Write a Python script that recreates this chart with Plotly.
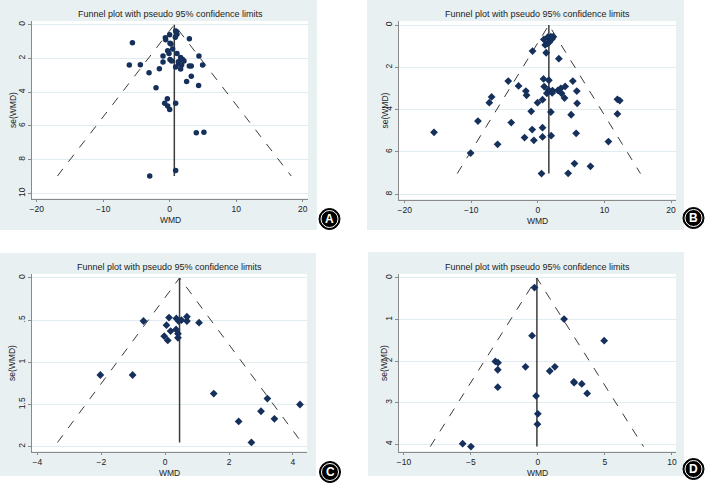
import plotly.graph_objects as go

W, H = 709, 484

# ---- panel A ----
a_wmd = [2.96, -5.6, -6.07, -4.41, -3.1, -2.05, -1.55, -1.0, -1.0, -0.65, -0.6, 0.0, -0.3, -0.1,
         0.05, 0.3, 0.05, 0.2, 0.45, 0.85, 1.0, 1.1, 0.9, 1.1, 0.9, 1.3, 1.35, 1.65, 1.8, 1.95,
         2.15, 1.65, 2.55, 2.95, 3.25, 3.25, 4.4, 4.95, 4.35, -0.35, -0.75, -0.3, 0.0, 0.9,
         4.0, 5.15, 0.9, -3.0]
a_se = [0.83, 1.07, 2.39, 2.37, 2.85, 3.74, 2.61, 1.86, 2.21, 0.77, 0.89, 0.6, 1.54, 1.7,
        2.06, 2.15, 1.1, 1.15, 1.44, 0.75, 0.4, 0.57, 0.37, 1.7, 2.5, 2.19, 2.33, 1.94, 2.39, 2.06,
        2.15, 2.63, 3.36, 2.45, 2.45, 3.06, 1.86, 2.39, 3.6, 4.39, 4.66, 4.82, 5.02, 4.66,
        6.4, 6.38, 8.64, 8.97]
a_pooled = 0.7

# ---- panel B ----
b_wmd = [0.9, 1.5, 1.95, 2.3, 2.15, 1.1, 1.45, 1.7, 1.25, -0.8, 3.15, 0.85, 1.65, -4.45, -2.9,
         0.95, -1.8, -1.7, -6.95, -7.3, 1.35, 1.6, 2.2, 2.15, 3.0, 3.45, 4.1, 3.55, 4.0, 5.25,
         5.85, 5.9, 0.7, -0.05, -1.0, 1.95, 5.0, 11.95, 12.3, 11.95, -9.0, -4.0, -15.6, -0.85,
         0.7, 5.75, -2.0, -0.6, 0.7, 2.0, -6.05, 10.6, -10.1, 5.5, 7.9, 0.55, 4.55]
b_se = [0.68, 0.57, 0.55, 0.55, 0.65, 0.94, 0.87, 0.82, 1.31, 1.23, 1.59, 2.55, 2.61, 2.65, 2.88,
        2.91, 3.12, 3.32, 3.4, 3.67, 3.23, 3.07, 3.1, 3.21, 3.09, 2.99, 2.9, 3.23, 3.45, 2.65,
        3.12, 3.7, 3.53, 3.67, 4.08, 4.11, 4.24, 3.51, 3.57, 4.2, 4.54, 4.61, 5.07, 4.94,
        4.85, 5.12, 5.32, 5.45, 5.29, 5.23, 5.64, 5.51, 6.05, 6.55, 6.68, 7.02, 7.01]
b_pooled = 1.65

# ---- panel C ----
c_wmd = [-0.68, 0.12, 0.35, 0.42, 0.51, 0.68, 0.68, 1.06, 0.04, 0.34, 0.17, 0.40, 0.40, -0.03,
         0.08, -2.03, -1.02, 1.52, 3.20, 4.22, 3.0, 3.42, 2.30, 2.70]
c_se = [0.51, 0.47, 0.48, 0.51, 0.50, 0.46, 0.51, 0.53, 0.56, 0.61, 0.63, 0.66, 0.71, 0.69,
        0.74, 1.15, 1.15, 1.37, 1.43, 1.50, 1.58, 1.67, 1.70, 1.95]
c_pooled = 0.45

# ---- panel D ----
d_wmd = [-0.26, 1.95, -0.44, 4.94, -3.18, -2.98, -3.0, -0.93, 0.88, 1.26, 2.68, 2.7, 3.27, 3.67,
         -3.0, -0.14, -0.01, -0.04, -5.62, -5.0]
d_se = [0.23, 0.99, 1.39, 1.51, 2.01, 2.04, 2.21, 2.14, 2.24, 2.14, 2.50, 2.52, 2.55, 2.78,
        2.63, 2.84, 3.27, 3.52, 3.99, 4.06]
d_pooled = -0.08

title_text = "Funnel plot with pseudo 95% confidence limits"
x_title = "WMD"
y_title = "se(WMD)"
letters = ["A", "B", "C", "D"]

ab_xticks = [-20, -10, 0, 10, 20]
a_yticks = [0, 2, 4, 6, 8, 10]
b_yticks = [0, 2, 4, 6, 8]
c_xticks = [-4, -2, 0, 2, 4]
c_yticks = [0, 0.5, 1, 1.5, 2]
c_yticklabels = ["0", ".5", "1", "1.5", "2"]
d_xticks = [-10, -5, 0, 5, 10]
d_yticks = [0, 1, 2, 3, 4]

# pixel layout of each panel: plot box (left, right, top, bottom), axis ranges,
# background box, letter centre, y-title x position
panels = [
    dict(wmd=a_wmd, se=a_se, pooled=a_pooled, sym="circle",
         box=(32, 308, 21, 199), xr=[-20.7, 20.8], yr=[10.33, -0.22],
         xt=ab_xticks, yt=a_yticks, yl=None, ytx=13,
         bg=(0, 317, 0, 230), letter=(329.5, 219)),
    dict(wmd=b_wmd, se=b_se, pooled=b_pooled, sym="diamond",
         box=(399, 676, 21, 200), xr=[-20.86, 20.75], yr=[8.27, -0.19],
         xt=ab_xticks, yt=b_yticks, yl=None, ytx=384,
         bg=(367, 684, 0, 230), letter=(693.5, 218)),
    dict(wmd=c_wmd, se=c_se, pooled=c_pooled, sym="diamond",
         box=(32, 307, 274, 452), xr=[-4.17, 4.44], yr=[2.063, -0.047],
         xt=c_xticks, yt=c_yticks, yl=c_yticklabels, ytx=12,
         bg=(0, 316, 253, 476), letter=(330, 472)),
    dict(wmd=d_wmd, se=d_se, pooled=d_pooled, sym="diamond",
         box=(399, 676, 274, 452), xr=[-10.37, 10.3], yr=[4.19, -0.096],
         xt=d_xticks, yt=d_yticks, yl=None, ytx=384,
         bg=(368, 684, 252, 476), letter=(693.5, 469)),
]

font = "Liberation Sans, Arial, sans-serif"
navy = "#16305c"
axcol = "#8a8a8a"
txtcol = "#222"


def px(x):
    return x / W


def py(y):
    return 1 - y / H


fig = go.Figure()
shapes = []
annotations = []
layout = {}

for i, p in enumerate(panels):
    n = "" if i == 0 else str(i + 1)
    xref, yref = "x" + n, "y" + n
    l, r, t, b = p["box"]
    se_max = max(p["se"])

    # pseudo 95% limits and pooled estimate
    fig.add_trace(go.Scatter(x=[p["pooled"] - 1.96 * se_max, p["pooled"], p["pooled"] + 1.96 * se_max],
                             y=[se_max, 0, se_max], mode="lines",
                             line=dict(color="#3a3a3a", width=1, dash="dash"),
                             xaxis=xref, yaxis=yref, hoverinfo="skip"))
    fig.add_trace(go.Scatter(x=[p["pooled"], p["pooled"]], y=[0, se_max], mode="lines",
                             line=dict(color="#3c3c3c", width=1.5),
                             xaxis=xref, yaxis=yref, hoverinfo="skip"))
    fig.add_trace(go.Scatter(x=p["wmd"], y=p["se"], mode="markers",
                             marker=dict(color=navy, size=5.5 if p["sym"] == "circle" else 6,
                                         symbol=p["sym"], line=dict(width=0)),
                             xaxis=xref, yaxis=yref))

    layout["xaxis" + n] = dict(domain=[px(l), px(r)], range=p["xr"], anchor=yref,
                               automargin=False, showline=True, linecolor=axcol, linewidth=1,
                               ticks="outside", ticklen=2, tickcolor=axcol,
                               tickvals=p["xt"], showgrid=False, zeroline=False,
                               tickfont=dict(size=8.5, color=txtcol))
    yax = dict(domain=[py(b), py(t)], range=p["yr"], anchor=xref,
               automargin=False, showline=True, linecolor=axcol, linewidth=1,
               ticks="outside", ticklen=3, tickcolor=axcol,
               tickvals=p["yt"], tickangle=-90,
               showgrid=True, gridcolor="#e1ecf0", gridwidth=1, zeroline=False,
               tickfont=dict(size=8.5, color=txtcol))
    if p["yl"] is not None:
        yax["ticktext"] = p["yl"]
    layout["yaxis" + n] = yax

    bx0, bx1, by0, by1 = p["bg"]
    shapes.append(dict(type="rect", xref="paper", yref="paper", layer="below",
                       x0=px(bx0), x1=px(bx1), y0=py(by1), y1=py(by0),
                       fillcolor="#e8f0f2", line=dict(width=0)))
    shapes.append(dict(type="rect", xref="paper", yref="paper", layer="below",
                       x0=px(l), x1=px(r), y0=py(b - 1), y1=py(t),
                       fillcolor="white", line=dict(width=0)))

    annotations.append(dict(text=title_text, xref="paper", yref="paper",
                            x=px((l + r) / 2), y=py(t - 7), showarrow=False,
                            xanchor="center", yanchor="middle",
                            font=dict(family=font, size=9, color=txtcol)))
    annotations.append(dict(text=x_title, xref="paper", yref="paper",
                            x=px((l + r) / 2), y=py(b + 21), showarrow=False,
                            xanchor="center", yanchor="middle",
                            font=dict(family=font, size=8.5, color=txtcol)))
    annotations.append(dict(text=y_title, xref="paper", yref="paper", textangle=-90,
                            x=px(p["ytx"]), y=py((t + b) / 2), showarrow=False,
                            xanchor="center", yanchor="middle",
                            font=dict(family=font, size=8.5, color=txtcol)))

    cx, cy = p["letter"]
    shapes.append(dict(type="circle", xref="paper", yref="paper",
                       x0=px(cx - 10.5), x1=px(cx + 10.5), y0=py(cy + 10.5), y1=py(cy - 10.5),
                       fillcolor="black", line=dict(color="black", width=1)))
    shapes.append(dict(type="circle", xref="paper", yref="paper",
                       x0=px(cx - 8.5), x1=px(cx + 8.5), y0=py(cy + 8.5), y1=py(cy - 8.5),
                       line=dict(color="white", width=1)))
    annotations.append(dict(text="<b>" + letters[i] + "</b>", xref="paper", yref="paper",
                            x=px(cx), y=py(cy), showarrow=False,
                            xanchor="center", yanchor="middle",
                            font=dict(family=font, size=12, color="white")))

fig.update_layout(width=W, height=H,
                  margin=dict(l=0, r=0, t=0, b=0, pad=0, autoexpand=False),
                  paper_bgcolor="white", plot_bgcolor="white", showlegend=False,
                  font=dict(family=font), shapes=shapes, annotations=annotations, **layout)

# page default body margin would shift the figure by 8px
fig.write_html("out.html", config={"displayModeBar": False},
               post_script="document.body.style.margin='0';")
